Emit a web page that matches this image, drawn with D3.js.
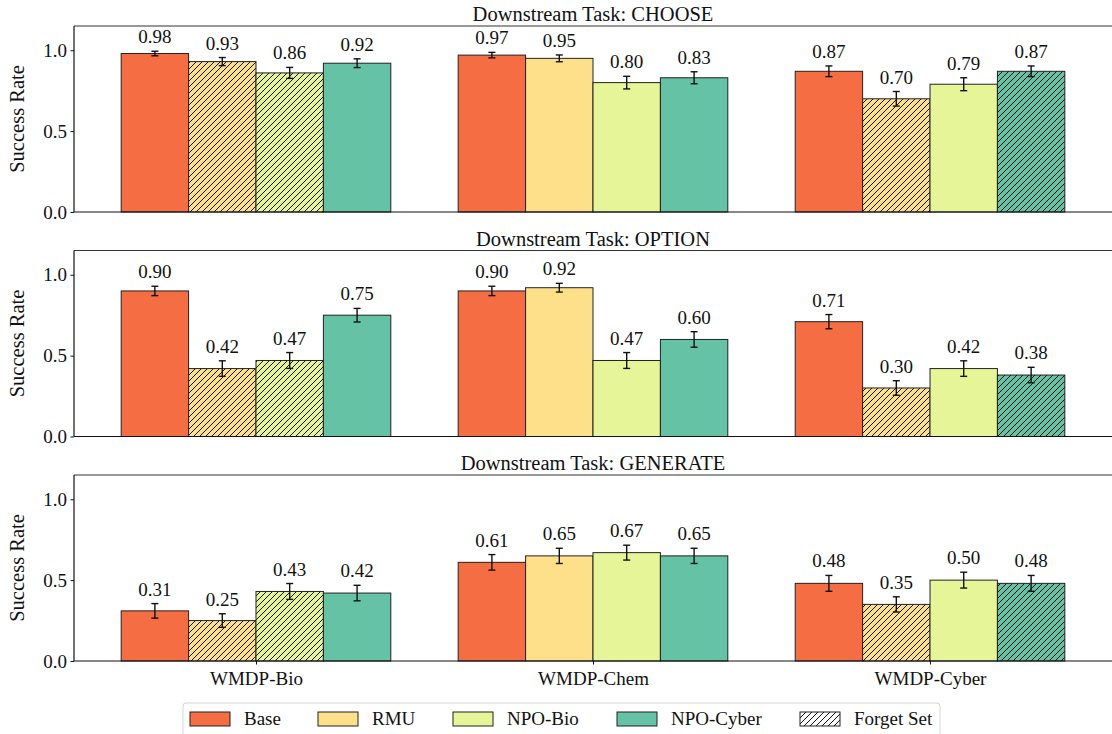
<!DOCTYPE html>
<html><head><meta charset="utf-8">
<script src="https://cdn.jsdelivr.net/npm/d3@7"></script>
<style>body{margin:0;background:#fff}svg{display:block}</style>
</head><body><svg id="c" width="1112" height="734"></svg>
<script>
const categories = ["WMDP-Bio","WMDP-Chem","WMDP-Cyber"];
const seriesNames = ["Base","RMU","NPO-Bio","NPO-Cyber"];
const seriesColors = ["#f46d43","#fee08b","#e6f598","#66c2a5"];
const taskTitles = ["Downstream Task: CHOOSE","Downstream Task: OPTION","Downstream Task: GENERATE"];
// values[task][category][series]
const chooseValues  = [[0.98,0.93,0.86,0.92],[0.97,0.95,0.80,0.83],[0.87,0.70,0.79,0.87]];
const optionValues  = [[0.90,0.42,0.47,0.75],[0.90,0.92,0.47,0.60],[0.71,0.30,0.42,0.38]];
const generateValues= [[0.31,0.25,0.43,0.42],[0.61,0.65,0.67,0.65],[0.48,0.35,0.50,0.48]];
const chooseErrors  = [[0.014,0.025,0.034,0.027],[0.017,0.021,0.039,0.037],[0.033,0.045,0.040,0.033]];
const optionErrors  = [[0.029,0.048,0.049,0.042],[0.029,0.027,0.049,0.048],[0.044,0.045,0.048,0.048]];
const generateErrors= [[0.045,0.042,0.049,0.048],[0.048,0.047,0.046,0.047],[0.049,0.047,0.049,0.049]];
// forget-set flags [category][series]
const forgetSet = [[false,true,true,false],[false,false,false,false],[false,true,false,true]];
const yTicks = [0.0,0.5,1.0];

const allValues = [chooseValues, optionValues, generateValues];
const allErrors = [chooseErrors, optionErrors, generateErrors];
const FONT = "Liberation Serif";

const svg = d3.select("#c").attr("font-family", FONT);
const defs = svg.append("defs");
const pat = defs.append("pattern").attr("id","hatch").attr("patternUnits","userSpaceOnUse")
  .attr("width",6).attr("height",6);
pat.append("path").attr("d","M-1,7 L7,-1 M-4,4 L4,-4 M2,10 L10,2")
  .attr("stroke","#111").attr("stroke-width",1).attr("fill","none");

const left = 74, right = 1112;
const panelTops = [26, 250.5, 475];
const panelH = 186;
const x = d3.scaleLinear().domain([-0.54, 2.54]).range([left, right]);
const barW = 0.2;

function txt(sel, size) {
  return sel.attr("font-family", FONT).style("font-family", FONT).style("font-size", size + "px").attr("fill", "#111");
}

taskTitles.forEach((title, t) => {
  const top = panelTops[t], bottom = top + panelH;
  const y = d3.scaleLinear().domain([0, 1.15]).range([bottom, top]);
  const g = svg.append("g");

  categories.forEach((cat, i) => {
    seriesNames.forEach((s, j) => {
      const v = allValues[t][i][j], e = allErrors[t][i][j];
      const xc = i + (j - 1.5) * barW;
      const x0 = x(xc - barW/2), x1 = x(xc + barW/2);
      g.append("rect").attr("x", x0).attr("y", y(v)).attr("width", x1 - x0).attr("height", y(0) - y(v))
        .attr("fill", seriesColors[j]);
      if (forgetSet[i][j]) {
        g.append("rect").attr("x", x0).attr("y", y(v)).attr("width", x1 - x0).attr("height", y(0) - y(v))
          .attr("fill", "url(#hatch)");
      }
      g.append("rect").attr("x", x0).attr("y", y(v)).attr("width", x1 - x0).attr("height", y(0) - y(v))
        .attr("fill", "none").attr("stroke", "#222").attr("stroke-width", 1);
      const xm = x(xc);
      g.append("line").attr("x1", xm).attr("x2", xm).attr("y1", y(v+e)).attr("y2", y(v-e))
        .attr("stroke","#111").attr("stroke-width",1.4);
      [v+e, v-e].forEach(yy => g.append("line").attr("x1", xm-3.5).attr("x2", xm+3.5)
        .attr("y1", y(yy)).attr("y2", y(yy)).attr("stroke","#111").attr("stroke-width",1.4));
      txt(g.append("text").attr("x", xm).attr("y", y(v+e) - 8).attr("text-anchor","middle"), 19)
        .text(v.toFixed(2));
    });
  });

  const ya = g.append("g").attr("transform", `translate(${left},0)`)
    .call(d3.axisLeft(y).tickValues(yTicks).tickFormat(d3.format(".1f")).tickSize(3.5).tickPadding(3.5));
  ya.attr("font-family", FONT);
  ya.select(".domain").remove();
  txt(ya.selectAll("text"), 19);
  ya.selectAll("line").attr("stroke","#111");

  const xa = g.append("g").attr("transform", `translate(0,${bottom})`)
    .call(d3.axisBottom(x).tickValues(t === 2 ? [0,1,2] : []).tickFormat(i => categories[i]).tickSize(3.5).tickPadding(3.5));
  xa.attr("font-family", FONT);
  xa.select(".domain").remove();
  txt(xa.selectAll("text"), 19).attr("dy","0.92em");
  xa.selectAll("line").attr("stroke","#111");

  g.append("line").attr("x1", left).attr("x2", right).attr("y1", bottom).attr("y2", bottom).attr("stroke","#111").attr("stroke-width",1.2);
  g.append("line").attr("x1", left).attr("x2", right).attr("y1", top).attr("y2", top).attr("stroke","#333").attr("stroke-width",1.2);
  g.append("line").attr("x1", left).attr("x2", left).attr("y1", top).attr("y2", bottom).attr("stroke","#111").attr("stroke-width",1.2);

  txt(g.append("text").attr("x", (left + right)/2).attr("y", top - 5).attr("text-anchor","middle"), 20.5).text(title);
  txt(g.append("text").attr("transform", `translate(24,${(top+bottom)/2}) rotate(-90)`).attr("text-anchor","middle"), 20.5)
    .text("Success Rate");
});

const lg = svg.append("g");
lg.append("rect").attr("x",183).attr("y",703).attr("width",757).attr("height",40).attr("rx",3)
  .attr("fill","#fff").attr("stroke","#d5d5d5").attr("stroke-width",1);
const legendItems = seriesNames.map((s,j)=>({label:s, color:seriesColors[j], hatch:false}))
  .concat([{label:"Forget Set", color:"#fff", hatch:true}]);
const legendX = [190, 318, 453, 617, 800];
legendItems.forEach((d, k) => {
  const lx = legendX[k];
  lg.append("rect").attr("x", lx).attr("y", 712).attr("width", 40).attr("height", 14).attr("fill", d.color);
  if (d.hatch) lg.append("rect").attr("x", lx).attr("y", 712).attr("width", 40).attr("height", 14).attr("fill","url(#hatch)");
  lg.append("rect").attr("x", lx).attr("y", 712).attr("width", 40).attr("height", 14).attr("fill","none")
    .attr("stroke","#222").attr("stroke-width",1);
  txt(lg.append("text").attr("x", lx + 54).attr("y", 725), 19).text(d.label);
});
</script></body></html>
